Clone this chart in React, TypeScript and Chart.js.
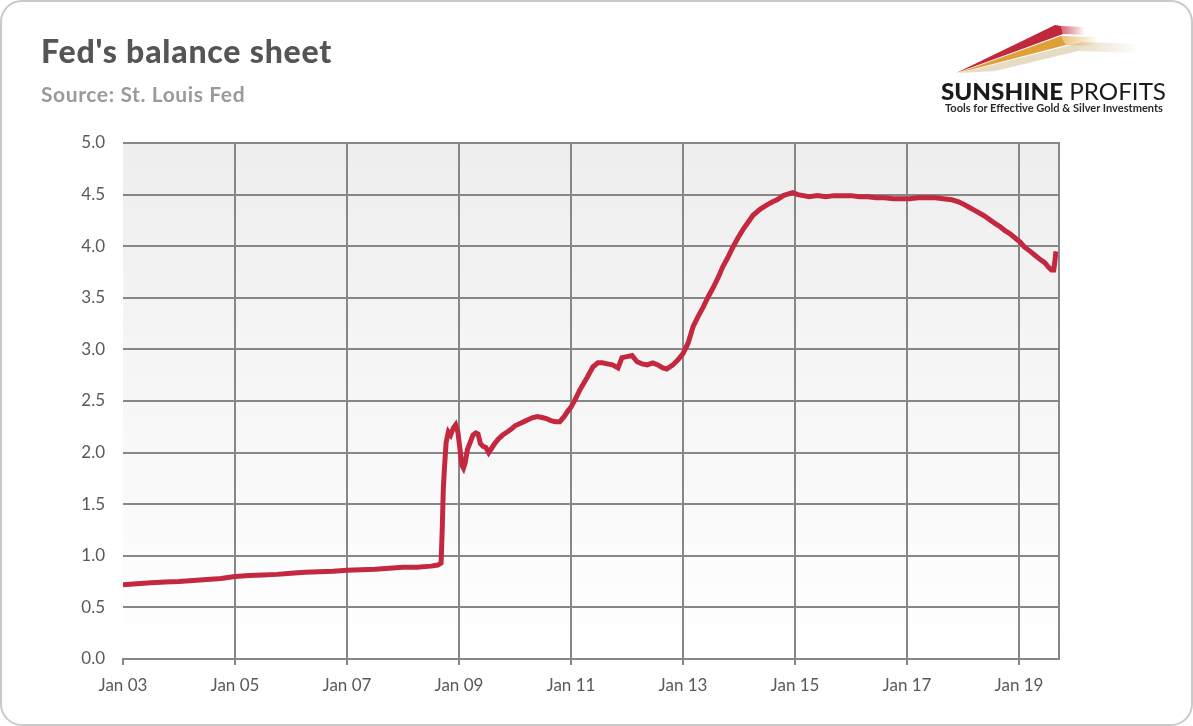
import React, { useEffect, useRef } from "react";
import { Chart, registerables } from "chart.js";

Chart.register(...registerables);

// Decimal-year dates and Fed total assets (trillions USD)
const dates: number[] = [
  2003.0, 2003.25, 2003.5, 2003.75, 2004.0, 2004.25, 2004.5, 2004.75,
  2005.0, 2005.25, 2005.5, 2005.75, 2006.0, 2006.25, 2006.5, 2006.75,
  2007.0, 2007.25, 2007.5, 2007.75, 2008.0, 2008.25, 2008.5, 2008.62, 2008.68,
  2008.70, 2008.72, 2008.74, 2008.77, 2008.81, 2008.85, 2008.90, 2008.94, 2008.98,
  2009.02, 2009.05, 2009.08, 2009.11, 2009.15, 2009.20, 2009.25, 2009.30, 2009.34,
  2009.38, 2009.43, 2009.48, 2009.53, 2009.58, 2009.64, 2009.70, 2009.78, 2009.86,
  2009.94, 2010.0, 2010.08, 2010.16, 2010.24, 2010.32, 2010.40, 2010.48, 2010.56,
  2010.64, 2010.72, 2010.80, 2010.88, 2010.94, 2011.0, 2011.08, 2011.16, 2011.29,
  2011.39, 2011.48, 2011.56, 2011.65, 2011.74, 2011.84, 2011.91, 2012.0, 2012.09,
  2012.18, 2012.27, 2012.36, 2012.46, 2012.55, 2012.64, 2012.71, 2012.82, 2012.91,
  2013.0, 2013.09, 2013.18, 2013.27, 2013.36, 2013.45, 2013.54, 2013.63, 2013.71,
  2013.80, 2013.89, 2013.98, 2014.07, 2014.16, 2014.25, 2014.38, 2014.5, 2014.6,
  2014.68, 2014.79, 2014.9, 2014.96, 2015.05, 2015.15, 2015.25, 2015.4, 2015.55,
  2015.7, 2015.85, 2016.0, 2016.15, 2016.3, 2016.45, 2016.6, 2016.75, 2016.9,
  2017.05, 2017.2, 2017.35, 2017.5, 2017.65, 2017.8, 2017.92, 2018.0, 2018.1,
  2018.2, 2018.36, 2018.47, 2018.57, 2018.66, 2018.75, 2018.84, 2018.93, 2019.02,
  2019.1, 2019.2, 2019.29, 2019.38, 2019.46, 2019.52, 2019.58, 2019.62, 2019.64,
  2019.66,
];

const balance: number[] = [
  0.72, 0.73, 0.74, 0.745, 0.75, 0.76, 0.77, 0.78,
  0.80, 0.81, 0.815, 0.82, 0.83, 0.84, 0.845, 0.85,
  0.86, 0.865, 0.87, 0.88, 0.89, 0.89, 0.90, 0.91, 0.93,
  1.25, 1.65, 1.85, 2.10, 2.20, 2.17, 2.24, 2.27, 2.20,
  2.02, 1.88, 1.85, 1.90, 2.03, 2.10, 2.17, 2.19, 2.18,
  2.09, 2.06, 2.05, 2.00, 2.04, 2.09, 2.13, 2.17, 2.20,
  2.23, 2.26, 2.28, 2.30, 2.32, 2.34, 2.35, 2.34, 2.33,
  2.31, 2.30, 2.30, 2.35, 2.40, 2.44, 2.52, 2.61, 2.73,
  2.83, 2.87, 2.87, 2.86, 2.85, 2.82, 2.92, 2.93, 2.94,
  2.88, 2.86, 2.85, 2.87, 2.85, 2.82, 2.81, 2.85, 2.90,
  2.96, 3.06, 3.22, 3.32, 3.41, 3.51, 3.60, 3.70, 3.80,
  3.89, 3.99, 4.08, 4.16, 4.23, 4.30, 4.36, 4.40, 4.43,
  4.45, 4.49, 4.51, 4.52, 4.50, 4.49, 4.48, 4.49, 4.48,
  4.49, 4.49, 4.49, 4.48, 4.48, 4.47, 4.47, 4.46, 4.46,
  4.46, 4.47, 4.47, 4.47, 4.46, 4.45, 4.43, 4.41, 4.38,
  4.35, 4.30, 4.26, 4.22, 4.19, 4.15, 4.12, 4.08, 4.04,
  3.99, 3.95, 3.91, 3.87, 3.84, 3.80, 3.77, 3.77, 3.85,
  3.95,
];

const yTicks: number[] = [0, 0.5, 1, 1.5, 2, 2.5, 3, 3.5, 4, 4.5, 5];
const xTickYears: number[] = [2003, 2005, 2007, 2009, 2011, 2013, 2015, 2017, 2019];

const X_MIN = 2003;
const X_MAX = 2019.714;
const GRID = "#878787";
const LABEL = "#595959";

const plotBg = {
  id: "plotBg",
  beforeDraw(chart: any) {
    const { ctx, chartArea: a } = chart;
    const g = ctx.createLinearGradient(0, a.top, 0, a.bottom);
    g.addColorStop(0, "#eeeeee");
    g.addColorStop(1, "#ffffff");
    ctx.save();
    ctx.fillStyle = g;
    ctx.fillRect(a.left, a.top, a.right - a.left, a.bottom - a.top);
    ctx.restore();
  },
  afterDraw(chart: any) {
    const { ctx, chartArea: a } = chart;
    ctx.save();
    ctx.strokeStyle = GRID;
    ctx.lineWidth = 2;
    ctx.beginPath();
    ctx.moveTo(a.right, a.top - 1);
    ctx.lineTo(a.right, a.bottom + 1);
    ctx.stroke();
    ctx.restore();
  },
};

function Logo() {
  return (
    <svg
      width={260}
      height={120}
      viewBox="930 0 260 120"
      style={{ position: "absolute", left: 930, top: 0 }}
    >
      <defs>
        <linearGradient id="fr" x1="0" x2="1" y1="0" y2="0">
          <stop offset="0" stopColor="#c8323f" stopOpacity="0.75" />
          <stop offset="1" stopColor="#c8323f" stopOpacity="0" />
        </linearGradient>
        <linearGradient id="fg" x1="0" x2="1" y1="0" y2="0">
          <stop offset="0" stopColor="#e3a13c" stopOpacity="0.7" />
          <stop offset="1" stopColor="#e3a13c" stopOpacity="0" />
        </linearGradient>
        <linearGradient id="fb" x1="0" x2="1" y1="0" y2="0">
          <stop offset="0" stopColor="#e2d6bd" stopOpacity="0.8" />
          <stop offset="1" stopColor="#e2d6bd" stopOpacity="0" />
        </linearGradient>
      </defs>
      <polygon points="960,73 1083,42 1078,51 995,71" fill="#e6dcc6" />
      <polygon points="1083,42 1140,44 1140,53 1078,51" fill="url(#fb)" />
      <polygon points="958,73 1061,36 1066,45" fill="#e0a038" />
      <polygon points="1061,36 1098,37 1098,46 1066,45" fill="url(#fg)" />
      <polygon points="956,73 1055,25 1061,26 1063,34" fill="#c0283c" />
      <polygon points="1061,26 1085,27 1085,35 1063,34" fill="url(#fr)" />
      <text
        x={941}
        y={100}
        textLength={225}
        lengthAdjust="spacingAndGlyphs"
        style={{ fontFamily: "Lato, 'Open Sans', sans-serif", fontSize: 23, fill: "#1a1a1a" }}
      >
        <tspan style={{ fontWeight: 900 }}>SUNSHINE</tspan>
        <tspan style={{ fontWeight: 400 }}> PROFITS</tspan>
      </text>
      <text
        x={945}
        y={112}
        textLength={218}
        lengthAdjust="spacingAndGlyphs"
        style={{ fontFamily: "Lato, 'Open Sans', sans-serif", fontSize: 10.5, fontWeight: 700, fill: "#2a2a2a" }}
      >
        Tools for Effective Gold &amp; Silver Investments
      </text>
    </svg>
  );
}

export default function App() {
  const canvasRef = useRef<HTMLCanvasElement | null>(null);

  useEffect(() => {
    if (!canvasRef.current) return;
    const data = dates.map((d, i) => ({ x: d, y: balance[i] }));
    const chart = new Chart(canvasRef.current, {
      type: "line",
      data: {
        datasets: [
          {
            label: "Fed's balance sheet",
            data,
            borderColor: "#c4283e",
            borderWidth: 5,
            pointRadius: 0,
            tension: 0,
            fill: false,
          },
        ],
      },
      options: {
        animation: false,
        responsive: false,
        maintainAspectRatio: false,
        layout: { padding: { top: 143, right: 1193 - 1059, bottom: 0, left: 0 } },
        plugins: { legend: { display: false }, tooltip: { enabled: false } },
        scales: {
          x: {
            type: "linear",
            min: X_MIN,
            max: X_MAX,
            afterFit: (s: any) => {
              s.height = 726 - 659;
            },
            afterBuildTicks: (s: any) => {
              s.ticks = xTickYears.map((v) => ({ value: v }));
            },
            ticks: {
              autoSkip: false,
              maxRotation: 0,
              padding: 10,
              color: LABEL,
              font: { family: "Lato, 'Open Sans', sans-serif", size: 17 },
              callback: (v: any) => `Jan ${String(Number(v) % 100).padStart(2, "0")}`,
            },
            grid: {
              color: (c: any) => (c.tick && c.tick.value === X_MIN ? "rgba(0,0,0,0)" : GRID),
              tickColor: GRID,
              lineWidth: 2,
              tickLength: 6,
              drawTicks: true,
            },
            border: { display: true, color: GRID, width: 2 },
          },
          y: {
            min: 0,
            max: 5,
            afterFit: (s: any) => {
              s.width = 123;
            },
            afterBuildTicks: (s: any) => {
              s.ticks = yTicks.map((v) => ({ value: v }));
            },
            ticks: {
              padding: 18,
              color: LABEL,
              font: { family: "Lato, 'Open Sans', sans-serif", size: 17 },
              callback: (v: any) => Number(v).toFixed(1),
            },
            grid: { color: GRID, lineWidth: 2, drawTicks: false },
            border: { display: false },
          },
        },
      },
      plugins: [plotBg],
    });
    return () => chart.destroy();
  }, []);

  return (
    <div
      style={{
        position: "fixed",
        left: 0,
        top: 0,
        width: 1193,
        height: 726,
        background: "#ffffff",
        overflow: "hidden",
      }}
    >
      <canvas
        ref={canvasRef}
        width={1193}
        height={726}
        style={{ position: "absolute", left: 0, top: 0, width: 1193, height: 726 }}
      />
      <div
        style={{
          position: "absolute",
          left: 41,
          top: 35,
          fontFamily: "Lato, 'Open Sans', sans-serif",
          fontWeight: 900,
          fontSize: 32,
          letterSpacing: 0.8,
          lineHeight: 1,
          color: "#555555",
          whiteSpace: "nowrap",
        }}
      >
        Fed's balance sheet
      </div>
      <div
        style={{
          position: "absolute",
          left: 41,
          top: 83,
          fontFamily: "Lato, 'Open Sans', sans-serif",
          fontWeight: 700,
          fontSize: 21,
          letterSpacing: 0.6,
          lineHeight: 1,
          color: "#9a9a9a",
          whiteSpace: "nowrap",
        }}
      >
        Source: St. Louis Fed
      </div>
      <Logo />
      <div
        style={{
          position: "absolute",
          left: 0,
          top: 0,
          width: 1193,
          height: 726,
          boxSizing: "border-box",
          border: "2px solid #c9c9c9",
          borderRadius: 22,
          pointerEvents: "none",
        }}
      />
    </div>
  );
}
